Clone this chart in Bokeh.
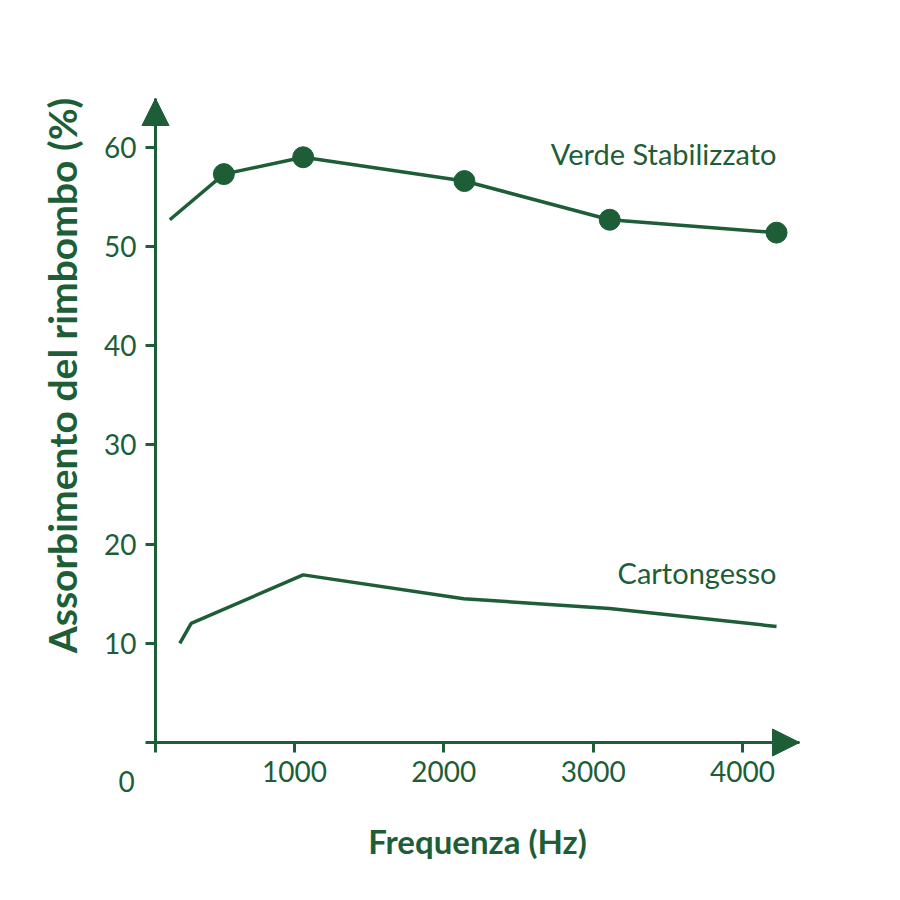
from bokeh.plotting import figure
from bokeh.models import FixedTicker, Arrow, NormalHead, LinearAxis, Range1d
from bokeh.core.properties import value
from bokeh.embed import file_html
from bokeh.resources import INLINE

GREEN = "#1d5e37"
FONT = "Lato"

# data
verde_freq = [165, 527, 1058, 2138, 3111, 4228]
verde_val = [52.7, 57.3, 59.0, 56.6, 52.7, 51.4]
verde_marker_freq = [527, 1058, 2138, 3111, 4228]
verde_marker_val = [57.3, 59.0, 56.6, 52.7, 51.4]

carton_freq = [232, 308, 1058, 2133, 3110, 4228]
carton_val = [10.0, 12.0, 16.9, 14.5, 13.5, 11.7]

series_names = ["Verde Stabilizzato", "Cartongesso"]
series_label_y = [59.4, 17.1]

x_ticks = [69.2, 1000, 2000, 3000, 4000]
y_ticks = [0, 10, 20, 30, 40, 50, 60]
origin_label_x = [-125]

# axis geometry (data units)
Y_AXIS_AT = 69.2      # frequency where the vertical axis stands
X_TIP = 4381.8        # end of the horizontal arrow
Y_TIP = 64.92         # end of the vertical arrow

p = figure(
    output_backend="svg", toolbar_location=None,
    width=880, height=880, min_border=0,
    x_range=Range1d(-968.8, 4924.2), y_range=Range1d(-13.91, 74.80),
    background_fill_color="white", border_fill_color="white",
)
p.outline_line_color = None
p.grid.visible = False
p.axis.visible = False


def style(ax):
    ax.axis_line_color = GREEN
    ax.axis_line_width = 3
    ax.major_tick_line_color = GREEN
    ax.major_tick_line_width = 3
    ax.major_tick_out = 10
    ax.major_tick_in = 0
    ax.minor_tick_line_color = None
    ax.major_label_text_color = GREEN
    ax.major_label_text_font = FONT
    ax.major_label_text_font_size = "28px"
    ax.axis_label_text_color = GREEN
    ax.axis_label_text_font = FONT
    ax.axis_label_text_font_style = "bold"


# horizontal axis
xax = LinearAxis(fixed_location=0, bounds=(Y_AXIS_AT - 0.5, X_TIP),
                 ticker=FixedTicker(ticks=x_ticks))
style(xax)
xax.major_label_overrides = {Y_AXIS_AT: ""}
xax.major_label_standoff = 8
xax.axis_label = "Frequenza (Hz)"
xax.axis_label_text_font_size = "33px"
xax.axis_label_standoff = 36
p.add_layout(xax, "below")

# "0" at the origin, a little lower than the other labels
oax = LinearAxis(fixed_location=0, ticker=FixedTicker(ticks=origin_label_x))
style(oax)
oax.axis_line_color = None
oax.major_tick_line_color = None
oax.major_label_overrides = {origin_label_x[0]: "0"}
oax.major_label_standoff = 18
p.add_layout(oax, "below")

# vertical axis
yax = LinearAxis(fixed_location=Y_AXIS_AT, bounds=(-0.05, Y_TIP),
                 ticker=FixedTicker(ticks=y_ticks))
style(yax)
yax.major_label_overrides = {0: ""}
yax.major_label_standoff = 9
p.add_layout(yax, "left")

# vertical axis title (centred a bit above the axis middle)
lax = LinearAxis(fixed_location=Y_AXIS_AT, bounds=(9.0, 65.0),
                 ticker=FixedTicker(ticks=[]))
style(lax)
lax.axis_line_color = None
lax.major_tick_line_color = None
lax.axis_label = "Assorbimento del rimbombo (%)"
lax.axis_label_text_font_size = "39px"
lax.axis_label_standoff = 71
p.add_layout(lax, "left")

# arrow heads on the axes
p.add_layout(Arrow(end=NormalHead(size=27, fill_color=GREEN, line_color=GREEN, line_width=1),
                   x_start=X_TIP - 10, y_start=0, x_end=X_TIP, y_end=0, line_alpha=0))
p.add_layout(Arrow(end=NormalHead(size=27, fill_color=GREEN, line_color=GREEN, line_width=1),
                   x_start=Y_AXIS_AT, y_start=Y_TIP - 0.1, x_end=Y_AXIS_AT, y_end=Y_TIP,
                   line_alpha=0))

# series
p.line(verde_freq, verde_val, line_color=GREEN, line_width=3.5)
p.scatter(verde_marker_freq, verde_marker_val, size=21, fill_color=GREEN, line_color=GREEN)
p.line(carton_freq, carton_val, line_color=GREEN, line_width=3.5)

p.text(x=[verde_freq[-1], carton_freq[-1]], y=series_label_y, text=series_names,
       text_align="right", text_baseline="middle", text_color=GREEN,
       text_font=value(FONT), text_font_size="29px")

open("out.html", "w").write(file_html(p, INLINE))
